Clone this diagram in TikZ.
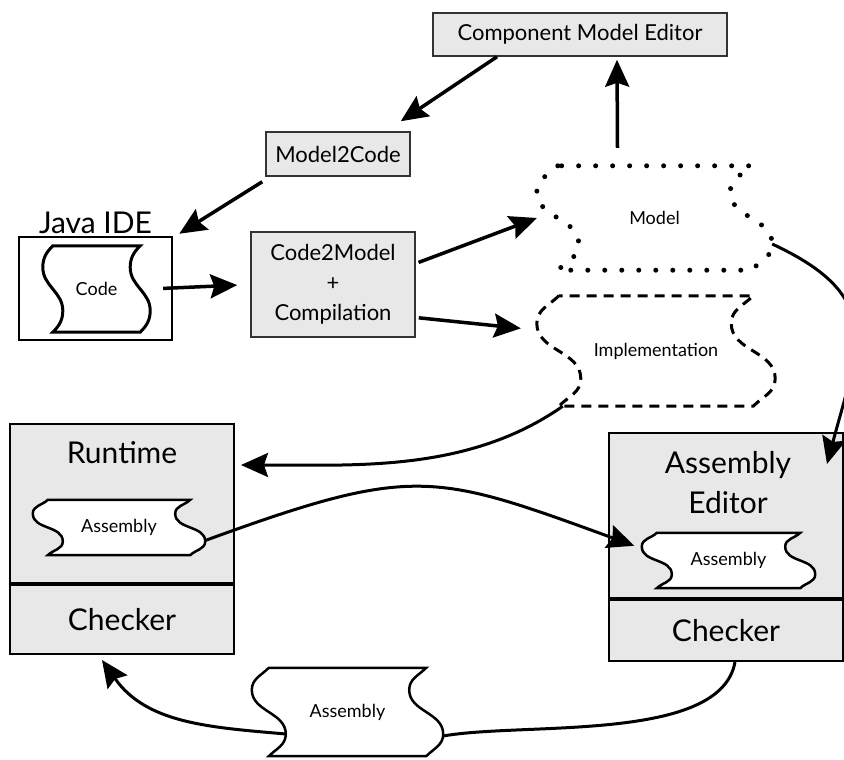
\documentclass[tikz,border=0pt]{standalone}
\usepackage{fontspec}
\setmainfont{Lato}
\usetikzlibrary{positioning, arrows.meta, calc}

\pgfdeclarelayer{back}
\pgfdeclarelayer{mid}
\pgfsetlayers{back,mid,main}

% wavy sheet round a node: #2 = node, #3 = bend
\newcommand{\sheetoutline}[3][]{%
  \draw[#1] let \p1=(#2.north west), \p2=(#2.south east), \n1={\y1-\y2} in
    (\x1+#3,\y1) to[out=-135,in=90] (\x1,\y1-0.25*\n1)
    to[out=-90,in=90] (\x1+2*#3,\y1-0.75*\n1)
    to[out=-90,in=45] (\x1+#3,\y2) -- (\x2-#3,\y2)
    to[out=45,in=-90] (\x2,\y2+0.25*\n1)
    to[out=90,in=-90] (\x2-2*#3,\y1-0.25*\n1)
    to[out=90,in=-135] (\x2-#3,\y1) -- cycle;}

\begin{document}
\begin{tikzpicture}[x=1pt, y=1pt,
    gbox/.style = {rectangle, draw=black!80, line width=1.5pt, fill=black!9, align=center, inner sep=0pt, font=\fontsize{22}{30}\selectfont},
    bigbox/.style = {rectangle, draw, line width=2pt, fill=black!9, inner sep=0pt, font=\fontsize{30}{40}\selectfont},
    big/.style = {font=\fontsize{30}{40}\selectfont, align=center, inner sep=1pt},
    small/.style = {font=\fontsize{18}{22}\selectfont, inner sep=0pt},
    sheet/.style = {line width=2.5pt, fill=white},
    pointed/.style = {-{Stealth[length=27pt, width=24pt, inset=4pt]}},
    arr/.style = {line width=3.5pt, pointed},
    link/.style = {line width=3pt}
]
\useasboundingbox (0,0) rectangle (844,-760);

% Editors
    \node[gbox, minimum width=294pt, minimum height=43pt] (cme) at (580,-34.5) {Component Model Editor};
    \node[gbox, minimum width=144pt, minimum height=44pt] (m2c) at (338,-154) {Model2Code};
    \node[gbox, minimum width=164pt, minimum height=105pt] (c2m) at (333,-284.5) {Code2Model\\+\\Compilation};

% Java IDE
    \node[draw, line width=2.5pt, minimum width=153pt, minimum height=103pt] (ide) at (95.5,-288.5) {};
    \node[big, above=1pt of ide] (idetitle) {Java IDE};
    \node[small, minimum width=107pt, minimum height=86pt] (code) at (96.5,-289) {Code};

% Model and implementation
    \node[small, minimum width=235pt, minimum height=104pt] (model) at (654.5,-218) {Model};
    \node[small, minimum width=238pt, minimum height=110pt] (impl) at (656,-351) {Implementation};

% Runtime and assembly editor
\begin{pgfonlayer}{back}
    \node[bigbox, minimum width=224pt, minimum height=159pt] (rt) at (122,-503.5) {};
    \node[bigbox, minimum width=224pt, minimum height=69pt, below=0pt of rt] (rtchk) {Checker};
    \node[bigbox, minimum width=234pt, minimum height=165pt] (aed) at (726,-515.5) {};
    \node[bigbox, minimum width=234pt, minimum height=61pt, below=0pt of aed] (aedchk) {Checker};
\end{pgfonlayer}
    \node[big] (rttitle) at (122,-453) {Runtime};
    \node[big] (aedtitle) at (728,-483) {Assembly\\Editor};
    \node[small, minimum width=172pt, minimum height=55pt] (asm1) at (119,-527.5) {Assembly};
    \node[small, minimum width=173pt, minimum height=55pt] (asm2) at (728.5,-560.5) {Assembly};
    \node[small, minimum width=191pt, minimum height=88pt] (asm3) at (347.5,-712) {Assembly};

% Sheets
\begin{pgfonlayer}{mid}
    \sheetoutline[sheet, line width=3pt]{code}{10pt}
    \sheetoutline[line width=5pt, line cap=round, dash pattern=on 0pt off 17pt]{model}{21pt}
    \sheetoutline[line width=3pt, dash pattern=on 10pt off 7pt]{impl}{22pt}
    \sheetoutline[sheet]{asm1}{15pt}
    \sheetoutline[sheet]{asm2}{15pt}
    \sheetoutline[sheet]{asm3}{17pt}
\end{pgfonlayer}

% Arrows
    \draw[arr] ([xshift=-83pt]cme.south) -- ([shift={(-10pt,10pt)}]m2c.north east);
    \draw[arr, shorten >=3pt] ([shift={(-37pt,18pt)}]model.north) -- ([xshift=37pt]cme.south);
    \draw[arr] ([shift={(-3pt,-5pt)}]m2c.south west) -- ([shift={(6pt,2pt)}]ide.north east);
    \draw[arr, shorten <=13pt, shorten >=13pt] (code.east) -- (c2m.west);
    \draw[arr, shorten <=3pt] ([yshift=21pt]c2m.east) -- (model.west);
    \draw[arr, shorten <=3pt, shorten >=16pt] ([yshift=-33pt]c2m.east) -- ([yshift=21pt]impl.west);
    \draw[link, pointed] ([yshift=-26pt]model.east) to[out=-25, in=75, looseness=1.4] ([shift={(-17pt,-32pt)}]aed.north east);
    \draw[link, pointed] ([xshift=26pt]impl.south west) to[out=-145, in=0, looseness=0.9] ([shift={(6pt,38.5pt)}]rt.east);
    \draw[link, pointed, shorten >=8pt] ([yshift=-13pt]asm1.east) to[out=20, in=160, looseness=1.3] ([yshift=12pt]asm2.west);
    \draw[link] ([xshift=9pt]aedchk.south) to[out=-100, in=10, looseness=0.7] ([yshift=-24pt]asm3.east);
    \draw[link, pointed] ([shift={(34pt,-22pt)}]asm3.west) to[out=175, in=-55] ([shift={(-20pt,-5pt)}]rtchk.south);
\end{tikzpicture}
\end{document}
